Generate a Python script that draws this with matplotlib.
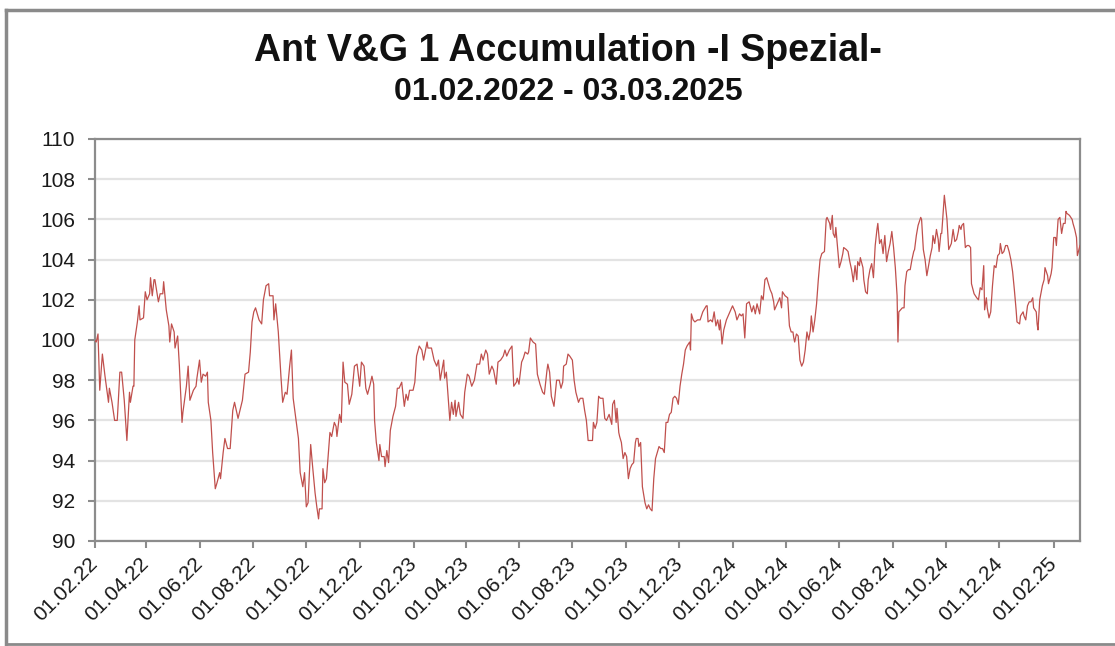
import pandas as pd
import matplotlib
matplotlib.use("Agg")
import matplotlib.pyplot as plt
from matplotlib.lines import Line2D

title = "Ant V&G 1 Accumulation -I Spezial-"
subtitle = "01.02.2022 - 03.03.2025"
start_date = "2022-02-01"
end_date = "2025-03-03"

# days since 01.02.2022
day_offsets = [
    0, 2, 4, 6, 9, 12, 16, 17, 20, 23, 26, 29, 31, 34, 37, 40, 41, 44, 45, 46,
    49, 51, 52, 56, 58, 60, 63, 64, 66, 68, 69, 73, 75, 78, 79, 82, 85, 86, 88, 91,
    92, 95, 97, 100, 101, 105, 107, 109, 113, 116, 117, 120, 122, 124, 127, 129, 130, 133, 135, 138,
    140, 143, 144, 147, 149, 152, 155, 158, 160, 164, 169, 172, 176, 178, 180, 182, 184, 186, 188, 191,
    193, 196, 199, 200, 204, 205, 207, 210, 213, 215, 218, 220, 223, 225, 227, 230, 233, 235, 238, 240,
    242, 244, 247, 249, 252, 254, 256, 257, 260, 261, 263, 265, 269, 271, 274, 276, 277, 280, 282, 284,
    286, 289, 291, 294, 297, 300, 303, 305, 308, 310, 312, 315, 317, 319, 320, 322, 325, 326, 328, 331,
    332, 334, 336, 338, 341, 344, 346, 348, 351, 354, 356, 358, 360, 364, 366, 368, 371, 374, 376, 380,
    381, 385, 388, 391, 393, 395, 399, 400, 402, 404, 406, 408, 410, 412, 413, 416, 418, 421, 423, 426,
    428, 431, 434, 437, 440, 442, 444, 447, 449, 451, 454, 456, 459, 461, 464, 467, 469, 471, 474, 477,
    479, 482, 483, 485, 488, 490, 492, 495, 496, 498, 501, 504, 506, 509, 512, 514, 517, 518, 520, 522,
    525, 528, 531, 533, 535, 536, 539, 541, 543, 546, 548, 550, 553, 555, 558, 560, 562, 564, 567, 569,
    570, 572, 574, 576, 578, 581, 583, 585, 588, 591, 592, 594, 596, 597, 599, 600, 602, 604, 606, 608,
    610, 612, 614, 616, 618, 619, 621, 622, 624, 626, 629, 631, 633, 635, 637, 639, 641, 643, 645, 647,
    649, 651, 653, 655, 657, 659, 661, 663, 665, 667, 669, 671, 673, 675, 677, 680, 681, 682, 684, 686,
    689, 692, 695, 699, 700, 701, 704, 706, 708, 710, 712, 714, 715, 717, 719, 722, 724, 727, 729, 732,
    734, 737, 739, 741, 743, 745, 748, 751, 753, 755, 757, 760, 762, 764, 766, 768, 772, 774, 776, 777,
    779, 781, 783, 785, 786, 789, 792, 793, 794, 796, 798, 799, 800, 802, 804, 806, 808, 810, 812, 814,
    816, 818, 819, 821, 823, 825, 827, 829, 831, 834, 836, 837, 840, 841, 843, 844, 846, 847, 849, 851,
    853, 855, 856, 859, 861, 863, 865, 867, 869, 871, 872, 874, 875, 878, 879, 881, 883, 884, 886, 888,
    890, 892, 894, 895, 897, 899, 901, 903, 905, 907, 909, 911, 913, 915, 917, 918, 919, 921, 923, 925,
    926, 928, 930, 932, 934, 936, 937, 939, 941, 944, 945, 947, 949, 951, 953, 955, 957, 958, 960, 962,
    964, 965, 967, 968, 970, 971, 973, 974, 976, 977, 979, 981, 983, 985, 987, 988, 990, 991, 993, 995,
    997, 999, 1001, 1002, 1005, 1008, 1010, 1012, 1014, 1016, 1017, 1019, 1020, 1022, 1024, 1026, 1028, 1030, 1032, 1034,
    1035, 1037, 1039, 1041, 1043, 1045, 1047, 1049, 1051, 1053, 1054, 1057, 1058, 1061, 1062, 1064, 1066, 1068, 1070, 1072,
    1073, 1076, 1077, 1078, 1080, 1083, 1085, 1086, 1089, 1090, 1093, 1094, 1096, 1098, 1099, 1101, 1103, 1105, 1107, 1109,
    1110, 1111, 1114, 1117, 1118, 1120, 1122, 1123, 1126,
]

values = [
    100.0, 99.9, 100.3, 97.5, 99.3, 98.2, 96.9, 97.6, 96.9, 96.0, 96.0, 98.4, 98.4, 97.0, 95.0, 97.4, 96.9, 97.7, 97.7, 100.0,
    100.9, 101.7, 101.0, 101.1, 102.4, 102.0, 102.3, 103.1, 102.2, 103.0, 103.0, 101.9, 102.3, 102.3, 102.9, 101.5, 100.7, 99.9, 100.8, 100.4,
    99.6, 100.2, 98.7, 95.9, 96.4, 97.7, 98.7, 97.0, 97.5, 97.7, 98.1, 99.0, 97.9, 98.3, 98.2, 98.4, 96.9, 96.0, 94.4, 92.6,
    92.9, 93.4, 93.1, 94.4, 95.1, 94.6, 94.6, 96.5, 96.9, 96.1, 97.0, 98.3, 98.4, 99.4, 100.9, 101.4, 101.6, 101.3, 101.0, 100.8,
    102.0, 102.7, 102.8, 102.2, 102.2, 101.0, 101.8, 100.4, 98.2, 96.9, 97.4, 97.3, 98.7, 99.5, 97.1, 96.1, 95.1, 93.4, 92.7, 93.4,
    91.7, 91.9, 94.8, 93.8, 92.4, 91.7, 91.1, 91.6, 91.6, 93.6, 92.9, 93.1, 95.4, 95.2, 95.9, 95.7, 95.2, 96.3, 95.9, 98.9,
    97.9, 97.8, 96.8, 97.3, 98.7, 98.8, 97.7, 98.9, 98.7, 97.6, 97.3, 97.8, 98.2, 97.8, 96.0, 94.9, 94.0, 94.8, 94.2, 94.2,
    93.7, 94.5, 93.9, 95.5, 96.2, 96.7, 97.6, 97.6, 97.9, 96.7, 97.3, 97.0, 97.5, 97.5, 97.9, 99.2, 99.7, 99.5, 99.0, 99.9,
    99.6, 99.6, 99.0, 98.7, 99.0, 98.0, 99.0, 98.1, 98.4, 97.2, 96.0, 96.9, 96.3, 97.0, 96.2, 96.9, 96.3, 96.1, 97.4, 98.3,
    98.2, 97.7, 98.0, 98.8, 98.8, 99.3, 99.0, 99.5, 99.3, 98.3, 98.7, 98.5, 97.8, 98.9, 99.0, 99.2, 99.5, 99.2, 99.5, 99.7,
    97.7, 97.9, 98.1, 97.8, 98.9, 99.1, 99.4, 99.3, 99.4, 100.1, 99.9, 99.8, 98.3, 97.8, 97.4, 97.3, 98.5, 98.8, 98.4, 97.2,
    96.7, 98.0, 98.0, 97.6, 97.9, 98.7, 98.8, 99.3, 99.2, 99.0, 98.0, 97.4, 96.9, 97.1, 97.1, 96.5, 96.0, 95.0, 95.0, 95.0,
    95.9, 95.6, 95.9, 97.2, 97.1, 97.1, 96.1, 96.0, 96.3, 95.8, 96.8, 97.0, 95.9, 96.6, 95.4, 95.2, 94.9, 94.1, 94.4, 94.2,
    93.1, 93.6, 93.8, 93.9, 94.9, 95.1, 95.1, 94.7, 94.9, 92.7, 91.9, 91.6, 91.8, 91.6, 91.5, 93.1, 94.1, 94.4, 94.7, 94.6,
    94.6, 94.4, 95.9, 95.9, 96.3, 96.4, 97.1, 97.2, 97.1, 96.8, 97.7, 98.3, 98.8, 99.5, 99.7, 99.9, 99.5, 101.3, 101.0, 100.9,
    101.0, 101.0, 101.4, 101.7, 101.7, 100.9, 101.0, 100.9, 101.4, 100.7, 101.0, 100.5, 101.0, 99.8, 100.5, 101.0, 101.2, 101.5, 101.7, 101.4,
    101.0, 101.3, 101.2, 101.3, 100.1, 101.8, 101.9, 101.4, 101.7, 101.3, 101.8, 101.3, 102.2, 102.0, 103.0, 103.1, 102.5, 102.3, 101.9, 101.5,
    101.7, 101.9, 102.1, 101.6, 102.4, 102.2, 102.1, 101.4, 100.7, 100.4, 100.4, 100.1, 99.9, 100.3, 100.2, 99.0, 98.7, 98.9, 99.5, 100.4,
    100.0, 100.5, 101.2, 100.4, 101.0, 101.8, 103.0, 104.0, 104.3, 104.4, 106.0, 106.1, 105.8, 105.5, 106.2, 105.3, 105.1, 105.6, 104.6, 103.6,
    103.9, 104.3, 104.6, 104.5, 104.4, 103.9, 103.5, 102.9, 103.7, 103.0, 103.9, 103.7, 104.1, 103.6, 103.0, 102.4, 102.3, 103.0, 103.5, 103.8,
    103.1, 104.7, 105.5, 105.8, 104.8, 105.0, 104.3, 105.2, 103.9, 104.4, 104.8, 105.4, 104.6, 103.6, 102.2, 99.9, 101.4, 101.5, 101.6, 101.6,
    102.7, 103.4, 103.5, 103.5, 104.0, 104.4, 104.5, 105.2, 105.7, 106.1, 106.0, 104.5, 104.0, 103.2, 103.7, 104.2, 104.6, 105.2, 104.8, 105.5,
    105.0, 104.4, 105.3, 105.3, 106.6, 107.2, 106.4, 106.0, 104.5, 104.6, 104.8, 105.5, 104.9, 105.0, 105.4, 105.7, 105.5, 105.7, 105.8, 104.6,
    104.7, 104.7, 104.6, 102.8, 102.3, 102.1, 102.0, 102.6, 102.5, 103.7, 101.5, 102.1, 101.6, 101.1, 101.4, 102.7, 103.7, 103.6, 104.2, 104.3,
    104.8, 104.3, 104.4, 104.7, 104.7, 104.4, 104.0, 103.4, 102.5, 101.5, 100.9, 100.8, 101.2, 101.4, 101.2, 101.0, 101.7, 101.9, 101.9, 102.1,
    101.6, 101.4, 100.8, 100.5, 102.0, 102.7, 103.0, 103.6, 103.2, 102.8, 103.3, 103.6, 105.1, 105.1, 104.7, 106.0, 106.1, 105.3, 105.8, 105.8,
    106.4, 106.3, 106.2, 106.0, 105.8, 105.5, 105.1, 104.2, 104.7,
]

x_tick_labels = [
    "01.02.22", "01.04.22", "01.06.22", "01.08.22", "01.10.22", "01.12.22",
    "01.02.23", "01.04.23", "01.06.23", "01.08.23", "01.10.23", "01.12.23",
    "01.02.24", "01.04.24", "01.06.24", "01.08.24", "01.10.24", "01.12.24",
    "01.02.25",
]
y_ticks = [90, 92, 94, 96, 98, 100, 102, 104, 106, 108, 110]

plt.rcParams["font.family"] = ["Liberation Sans", "DejaVu Sans"]

W, H = 1115, 646
fig = plt.figure(figsize=(W / 100, H / 100), dpi=100)
ax = fig.add_axes([94.5 / W, 1 - 541 / H, (1080 - 94.5) / W, (541 - 139) / H])

dates = pd.Timestamp(start_date) + pd.to_timedelta(day_offsets, unit="D")
ax.plot(dates, values, color="#c0504d", lw=0.9, zorder=3)

ax.set_xlim(pd.Timestamp(start_date), pd.Timestamp(end_date))
ax.set_ylim(y_ticks[0], y_ticks[-1])
ax.set_yticks(y_ticks)
ax.set_yticklabels([str(v) for v in y_ticks])
tick_dates = pd.to_datetime(x_tick_labels, format="%d.%m.%y")
ax.set_xticks(tick_dates)
ax.set_xticklabels(x_tick_labels, rotation=45, ha="right", va="center",
                   rotation_mode="anchor")

ax.grid(axis="y", color="#e3e3e3", lw=1.6, zorder=0)
ax.grid(axis="x", visible=False)
ax.set_axisbelow(True)
for s in ax.spines.values():
    s.set_color("#8c8c8c")
    s.set_linewidth(1.6)
ax.tick_params(axis="both", colors="#8c8c8c", labelcolor="#1a1a1a",
               labelsize=15, length=5, width=1.5)
ax.tick_params(axis="y", pad=9)
ax.tick_params(axis="x", pad=9)

fig.text(568 / W, 1 - 61 / H, title, ha="center", va="baseline",
         fontsize=27, fontweight="bold", color="#111111")
fig.text(568 / W, 1 - 100 / H, subtitle, ha="center", va="baseline",
         fontsize=23, fontweight="bold", color="#111111")

# outer frame
fc = "#8a8a8a"
fig.add_artist(Line2D([6 / W, 1], [1 - 10 / H, 1 - 10 / H], transform=fig.transFigure,
                      color=fc, lw=2.5))
fig.add_artist(Line2D([6 / W, 6 / W], [1 - 10 / H, 1 - 644 / H], transform=fig.transFigure,
                      color=fc, lw=2.5))
fig.add_artist(Line2D([6 / W, 1], [1 - 644 / H, 1 - 644 / H], transform=fig.transFigure,
                      color=fc, lw=2.0))

fig.savefig("out.png", dpi=100)
